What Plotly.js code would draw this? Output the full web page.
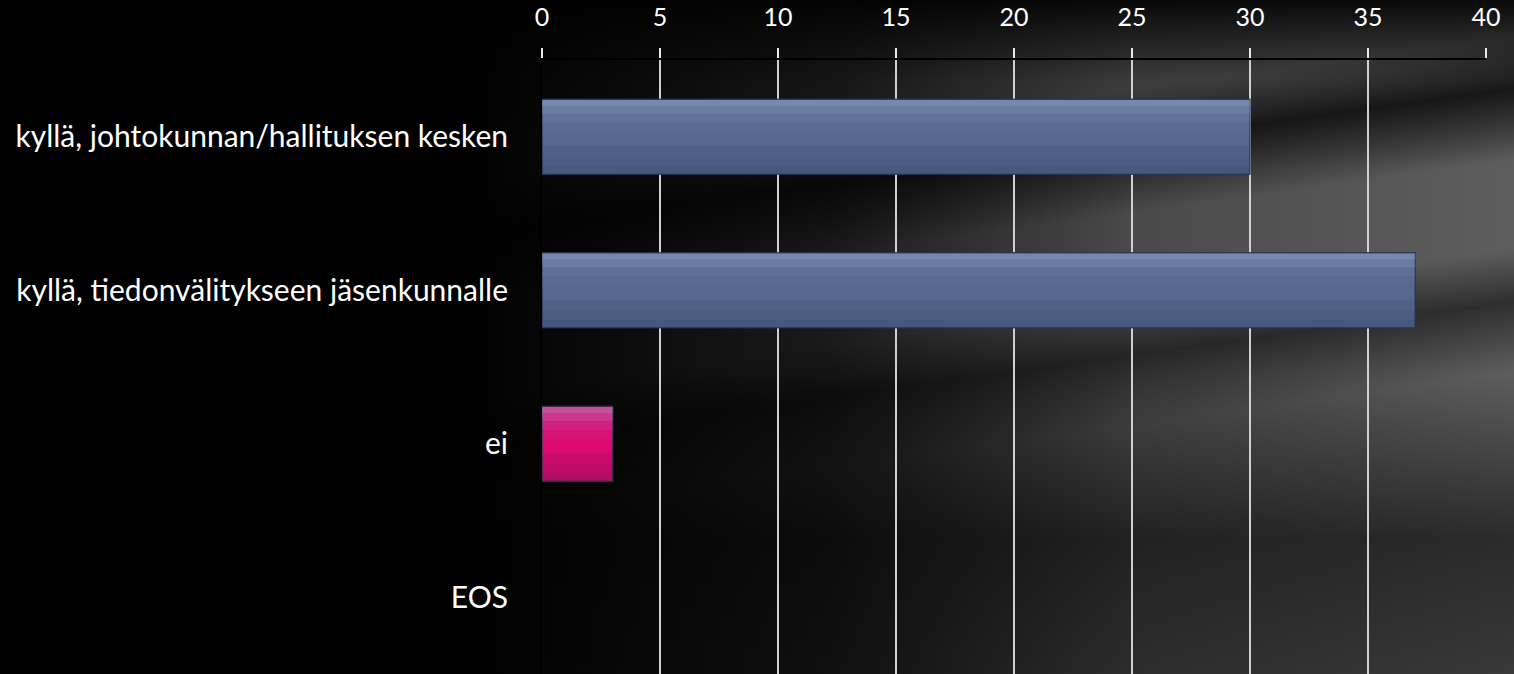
<!DOCTYPE html>
<html>
<head>
<meta charset="utf-8">
<script src="https://cdn.plot.ly/plotly-3.0.1.min.js"></script>
<style>
html,body{margin:0;padding:0;width:1514px;height:674px;overflow:hidden;}
body{
 background:
  linear-gradient(to right, #000 0%, #000 30%, #1a1a1a 55%, #4a4a4a 75%, #5e5e5e 100%),
  #000;
}
#chart{position:absolute;left:0;top:0;width:1514px;height:674px;}
#shade{position:absolute;left:0;top:0;width:1514px;height:674px;
 background: linear-gradient(to bottom, rgba(0,0,0,0.9) 0%, rgba(0,0,0,0.2) 12%, rgba(0,0,0,0) 25%, rgba(0,0,0,0) 55%, rgba(0,0,0,0.55) 80%, rgba(0,0,0,0.4) 100%);}
#streak{position:absolute;left:0;top:0;width:1514px;height:674px;
 background: linear-gradient(172deg, rgba(0,0,0,0) 0%, rgba(0,0,0,0) 28%, rgba(0,0,0,0.7) 34%, rgba(0,0,0,0) 42%, rgba(0,0,0,0) 52%, rgba(0,0,0,0.5) 58%, rgba(0,0,0,0) 66%, rgba(0,0,0,0) 100%);}
</style>
</head>
<body>
<div id="shade"></div>
<div id="streak"></div>
<div id="chart"></div>
<script>
const categories = ["kyllä, johtokunnan/hallituksen kesken", "kyllä, tiedonvälitykseen jäsenkunnalle", "ei", "EOS"];
const values = [30, 37, 3, 0];
const barColors = ["#55688f", "#55688f", "#db0a70", "#55688f"];
const xTicks = [0, 5, 10, 15, 20, 25, 30, 35, 40];

const font = 'Lato, "Open Sans", sans-serif';
const lineWidths = values.map(v => v > 0 ? 1.5 : 0);

const main = {
  type: 'bar', orientation: 'h',
  x: values, y: categories,
  width: 0.49,
  marker: {color: barColors, line: {color: "rgba(40,50,80,0.8)", width: lineWidths}},
  hoverinfo: 'x+y', showlegend: false
};
function band(off, w, col) {
  return {
    type: 'bar', orientation: 'h', x: values, y: categories,
    width: w, offset: off,
    marker: {color: col, line: {width: 0}},
    hoverinfo: 'skip', showlegend: false
  };
}
const bands = [
  band(-0.24, 0.04, "rgba(170,185,220,0.40)"),
  band(-0.20, 0.05, "rgba(160,178,215,0.28)"),
  band(-0.15, 0.06, "rgba(150,170,210,0.15)"),
  band(-0.09, 0.06, "rgba(150,170,210,0.06)"),
  band(0.06, 0.07, "rgba(20,30,60,0.08)"),
  band(0.13, 0.06, "rgba(20,30,60,0.14)"),
  band(0.19, 0.05, "rgba(20,30,60,0.22)")
];

const layout = {
  width: 1514, height: 674,
  margin: {l: 542, r: 28, t: 60, b: 0},
  paper_bgcolor: 'rgba(0,0,0,0)',
  plot_bgcolor: 'rgba(0,0,0,0)',
  barmode: 'overlay',
  xaxis: {
    side: 'top', range: [0, 40], tickvals: xTicks, ticktext: xTicks.map(String),
    showgrid: true, gridcolor: '#d0d0d0', gridwidth: 2,
    zeroline: false,
    showline: true, linecolor: '#000', linewidth: 2,
    ticks: 'outside', ticklen: 10, tickwidth: 2, tickcolor: '#e8e8e8',
    tickfont: {family: font, size: 25, color: '#ffffff'},
    ticklabelstandoff: 12
  },
  yaxis: {
    type: 'category', categoryorder: 'array', categoryarray: categories,
    autorange: 'reversed',
    showgrid: false, zeroline: false,
    showline: true, linecolor: '#000', linewidth: 2,
    ticks: '', ticklabelstandoff: 26,
    tickfont: {family: font, size: 30, color: '#ffffff'}
  }
};
Plotly.newPlot('chart', [main].concat(bands), layout, {displayModeBar: false, staticPlot: true});
</script>
</body>
</html>
